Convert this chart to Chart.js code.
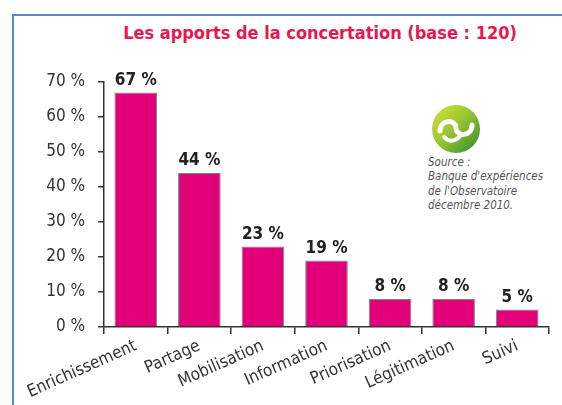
<!DOCTYPE html>
<html>
<head>
<meta charset="utf-8">
<script src="https://cdn.jsdelivr.net/npm/chart.js@4.4.0/dist/chart.umd.min.js"></script>
<style>
  html, body { margin: 0; padding: 0; background: #fff; }
  body { width: 562px; height: 405px; position: relative; overflow: hidden;
         font-family: "DejaVu Sans Condensed", "Roboto", sans-serif; }
  #frame { position: absolute; left: 12px; top: 14px; width: 560px; height: 400px;
           border-left: 2px solid #5b87c6; border-top: 2px solid #5b87c6; }
  #titre { position: absolute; left: 100px; width: 440px; top: 22px; text-align: center;
           color: #e8174f; font-weight: bold; font-size: 18px; white-space: nowrap; }
  #source { position: absolute; left: 428px; top: 155px; color: #555; font-style: italic;
            font-size: 11.5px; line-height: 14.3px; }
  #logo { position: absolute; left: 431px; top: 104px; }
  canvas { position: absolute; left: 0; top: 0; }
</style>
</head>
<body>
<div id="frame"></div>
<div id="titre">Les apports de la concertation (base : 120)</div>
<svg id="logo" width="50" height="50" viewBox="0 0 50 50">
  <defs>
    <linearGradient id="g" x1="0" y1="0" x2="1" y2="1">
      <stop offset="0" stop-color="#d9e23a"/>
      <stop offset="0.45" stop-color="#9cc634"/>
      <stop offset="1" stop-color="#2e8a2e"/>
    </linearGradient>
  </defs>
  <circle cx="25" cy="25" r="24" fill="url(#g)"/>
  <path d="M9 27 C9 15 25 15 25 24 C25 33 41 33 41 21" stroke="#fff" stroke-width="5" fill="none" stroke-linecap="round"/>
  <path d="M13 33 C19 40 27 36 30 30" stroke="#fff" stroke-width="4" fill="none" stroke-linecap="round"/>
</svg>
<div id="source">Source :<br>Banque d'expériences<br>de l'Observatoire<br>décembre 2010.</div>
<canvas id="graphCanvas" width="562" height="405"></canvas>
<script>
const categories = ['Enrichissement', 'Partage', 'Mobilisation', 'Information', 'Priorisation', 'Légitimation', 'Suivi'];
const valeurs = [67, 44, 23, 19, 8, 8, 5];
const yTicks = [0, 10, 20, 30, 40, 50, 60, 70];

const police = '"DejaVu Sans Condensed", "Roboto", sans-serif';

// etiquettes au-dessus des barres
const etiquettes = {
    id: 'etiquettes',
    afterDatasetsDraw(chart) {
        const ctx = chart.ctx;
        const meta = chart.getDatasetMeta(0);
        ctx.save();
        ctx.font = 'bold 17px ' + police;
        ctx.fillStyle = '#222';
        ctx.textAlign = 'center';
        ctx.textBaseline = 'alphabetic';
        meta.data.forEach((bar, i) => {
            ctx.fillText(valeurs[i] + ' %', bar.x, bar.y - 8);
        });
        ctx.restore();
    }
};

const ctx = document.getElementById('graphCanvas').getContext('2d');
const chart = new Chart(ctx, {
    type: 'bar',
    data: {
        labels: categories,
        datasets: [{
            data: valeurs,
            backgroundColor: '#e2007a',
            borderColor: '#6d8f80',
            borderWidth: 1,
            categoryPercentage: 1,
            barPercentage: 0.67
        }]
    },
    options: {
        responsive: false,
        animation: false,
        layout: { padding: { left: 0, right: 13, top: 82, bottom: 0 } },
        plugins: { legend: { display: false }, tooltip: { enabled: false } },
        scales: {
            x: {
                grid: { drawOnChartArea: false, drawTicks: true, tickLength: 7, tickColor: '#333', lineWidth: 1.5, offset: true },
                border: { display: true, color: '#333', width: 1.5 },
                ticks: {
                    color: '#333',
                    font: { family: police, size: 17 },
                    minRotation: 24,
                    maxRotation: 24,
                    padding: 2
                },
                afterFit(scale) { scale.height = 78; }
            },
            y: {
                min: 0,
                max: 70,
                afterBuildTicks(scale) { scale.ticks = yTicks.map(v => ({ value: v })); },
                grid: { drawOnChartArea: false, drawTicks: true, tickLength: 6, tickColor: '#333', lineWidth: 1.5 },
                border: { display: true, color: '#333', width: 1.5 },
                ticks: {
                    color: '#333',
                    font: { family: police, size: 17 },
                    padding: 13,
                    callback: v => v + ' %'
                },
                afterFit(scale) { scale.width = 104; }
            }
        }
    },
    plugins: [etiquettes]
});
</script>
</body>
</html>
